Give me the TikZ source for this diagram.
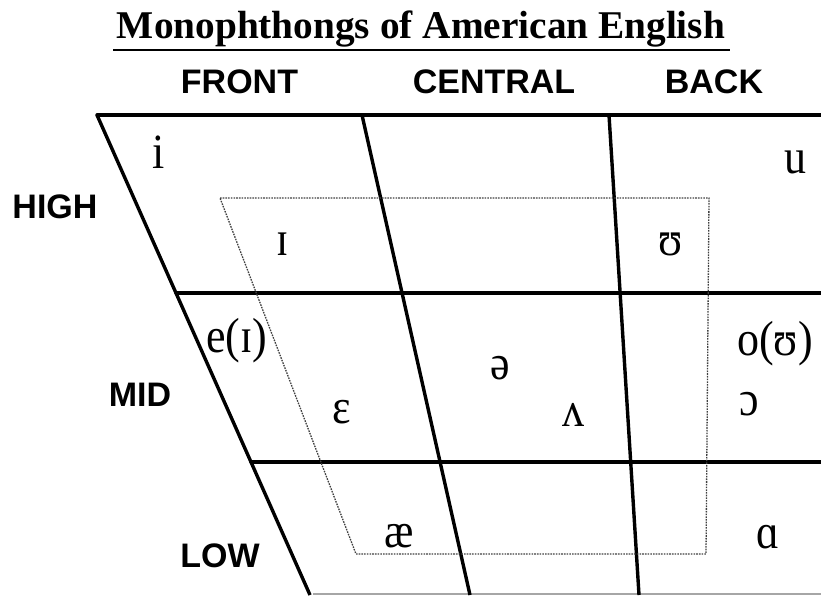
\documentclass[tikz,border=0pt]{standalone}
\usepackage{fontspec}
\setmainfont{Liberation Serif}
\newfontfamily\headfont{Liberation Sans}
\newcommand{\tallv}[1]{\scalebox{1}[1.12]{#1}}
\begin{document}
\begin{tikzpicture}[x=1pt,y=-1pt,
  gridline/.style={line width=3.4pt,line cap=round,black},
  baseline/.style={line width=1.5pt,black!35},
  dotline/.style={line width=1.3pt,black!75,dash pattern=on 1.6pt off 1.1pt},
  head/.style={font=\headfont\bfseries\fontsize{34}{40}\selectfont,anchor=base,inner sep=0pt},
  vowel/.style={font=\fontsize{44}{50}\selectfont,anchor=base,inner sep=0pt},
  titletext/.style={font=\bfseries\fontsize{39.3}{46}\selectfont,anchor=base,inner sep=0pt}]
\useasboundingbox (0,0) rectangle (821,595);
% title
\node[titletext] (title) at (421,38) {Monophthongs of American English};
\coordinate (ulA) at (113,50);
\coordinate (ulB) at (730,50);
\draw[line width=2pt] (ulA) -- (ulB);
% headings
\node[head] (front) at (239.5,93) {FRONT};
\node[head] (central) at (494,93) {CENTRAL};
\node[head] (back) at (714,93) {BACK};
\node[head] (high) at (55,218) {HIGH};
\node[head] (mid) at (140,406) {MID};
\node[head] (low) at (220,567) {LOW};
% grid coordinates
\coordinate (L0) at (97,115);
\coordinate (L1) at (176,293);
\coordinate (L2) at (251,462);
\coordinate (L3) at (310,595);
\coordinate (R0) at (821,115);
\coordinate (R1) at (821,293);
\coordinate (R2) at (821,462);
\coordinate (R3) at (821,594);
\coordinate (C0) at (362,115);
\coordinate (C3) at (470,595);
\coordinate (B0) at (609,115);
\coordinate (B3) at (639,595);
\coordinate (Lb) at (313,594);
% grid
\draw[baseline] (Lb) -- (R3);
\draw[gridline] (L0) -- (R0);
\draw[gridline] (L1) -- (R1);
\draw[gridline] (L2) -- (R2);
\draw[gridline,line cap=butt] (L0) -- (L3);
\draw[gridline,line cap=butt] (C0) -- (C3);
\draw[gridline,line cap=butt] (B0) -- (B3);
% dotted trapezoid
\coordinate (D1) at (220,198);
\coordinate (D2) at (709,198);
\coordinate (D3) at (706,554);
\coordinate (D4) at (356,554);
\draw[dotline] (D1) -- (D2) -- (D3) -- (D4) -- cycle;
% vowels
\node[vowel] (vi) at (159,168) {\tallv{i}};
\node[vowel] (vI) at (283,255) {\tallv{ɪ}};
\node[vowel] (vU) at (671,255) {\tallv{ʊ}};
\node[vowel] (vu) at (795,173) {\tallv{u}};
\node[vowel,anchor=base west] (vei) at (206,352) {\tallv{e(ɪ)}};
\node[vowel] (veps) at (342,423) {\tallv{ɛ}};
\node[vowel] (vae) at (399,547) {\tallv{æ}};
\node[vowel] (vschwa) at (500,379) {\tallv{ə}};
\node[vowel] (vwedge) at (573,426) {\tallv{ʌ}};
\node[vowel,anchor=base west] (vou) at (737,355) {\tallv{o(ʊ)}};
\node[vowel,anchor=base west] (vopen) at (739,415) {\tallv{ɔ}};
\node[vowel] (va) at (768,548) {\tallv{ɑ}};
\end{tikzpicture}
\end{document}
